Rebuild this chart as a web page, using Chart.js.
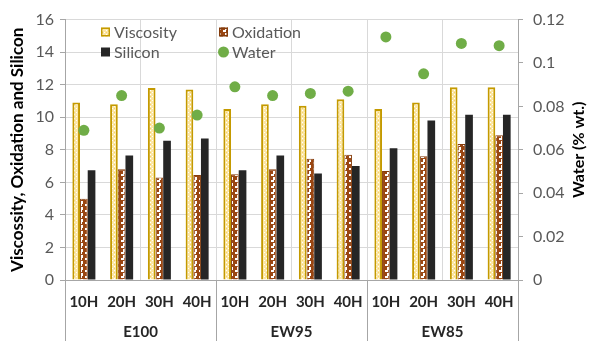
<!DOCTYPE html>
<html lang="en">
<head>
  <meta charset="UTF-8" />
  <title>Viscosity, Oxidation, Silicon and Water</title>
  <script src="https://cdn.jsdelivr.net/npm/chart.js"></script>
  <style>
    html, body { margin: 0; padding: 0; background: #fff; }
    #wrap { width: 590px; height: 341px; }
  </style>
</head>
<body>
  <div id="wrap"><canvas id="chart" width="590" height="341"></canvas></div>

  <script>
    const hours = ['10H', '20H', '30H', '40H', '10H', '20H', '30H', '40H', '10H', '20H', '30H', '40H'];
    const groups = ['E100', 'EW95', 'EW85'];
    const viscosity = [10.9, 10.8, 11.8, 11.7, 10.5, 10.8, 10.7, 11.1, 10.5, 10.9, 11.85, 11.85];
    const oxidation = [5.0, 6.8, 6.3, 6.45, 6.5, 6.8, 7.45, 7.7, 6.7, 7.6, 8.35, 8.9];
    const silicon = [6.75, 7.65, 8.55, 8.7, 6.75, 7.65, 6.55, 7.0, 8.1, 9.8, 10.15, 10.15];
    const water = [0.069, 0.085, 0.07, 0.076, 0.089, 0.085, 0.086, 0.087, 0.112, 0.095, 0.109, 0.108];
    const rightTicks = ['0', '0.02', '0.04', '0.06', '0.08', '0.1', '0.12'];

    const FONT = 'Lato, "Open Sans", sans-serif';
    const GRID = '#D9D9D9';
    const AXIS = '#A6A6A6';

    // small fill patterns like the Excel ones
    function makePattern(size, draw) {
      const c = document.createElement('canvas');
      c.width = size; c.height = size;
      draw(c.getContext('2d'));
      return c.getContext('2d').createPattern(c, 'repeat');
    }
    const viscPattern = makePattern(4, g => {
      g.fillStyle = '#FDE7A4'; g.fillRect(0, 0, 4, 4);
      g.fillStyle = '#FFFFFF'; g.fillRect(0, 0, 1, 1); g.fillRect(2, 2, 1, 1);
      g.fillStyle = '#F6D26E'; g.fillRect(2, 0, 1, 1);
    });
    const oxPattern = makePattern(6, g => {
      g.fillStyle = '#9A4612'; g.fillRect(0, 0, 6, 6);
      g.fillStyle = '#FFFFFF'; g.fillRect(1, 0, 3, 2); g.fillRect(3, 3, 2, 3);
    });

    const legendItems = [
      { text: 'Viscosity', x: 101, y: 32, kind: 'visc' },
      { text: 'Oxidation', x: 219, y: 32, kind: 'ox' },
      { text: 'Silicon', x: 101, y: 52, kind: 'si' },
      { text: 'Water', x: 219, y: 52, kind: 'water' }
    ];

    const extras = {
      id: 'extras',
      afterDraw(chart) {
        const ctx = chart.ctx;
        const x = chart.scales.x;
        const area = chart.chartArea;
        const bottom = chart.height;
        ctx.save();
        // group separators below the axis
        ctx.strokeStyle = AXIS;
        ctx.lineWidth = 1;
        const per = hours.length / groups.length;
        for (let g = 0; g <= groups.length; g++) {
          const i = g * per;
          let px;
          if (i === 0) px = area.left;
          else if (i === hours.length) px = area.right;
          else px = (x.getPixelForValue(i - 1) + x.getPixelForValue(i)) / 2;
          px = Math.round(px) + 0.5;
          ctx.beginPath();
          ctx.moveTo(px, area.bottom);
          ctx.lineTo(px, bottom);
          ctx.stroke();
        }
        // group labels
        ctx.fillStyle = '#262626';
        ctx.font = 'bold 15px ' + FONT;
        ctx.textAlign = 'center';
        ctx.textBaseline = 'middle';
        groups.forEach((name, g) => {
          const c = (x.getPixelForValue(g * per) + x.getPixelForValue(g * per + per - 1)) / 2;
          ctx.fillText(name, c, 332);
        });
        // right axis title
        ctx.save();
        ctx.translate(579, (area.top + area.bottom) / 2);
        ctx.rotate(-Math.PI / 2);
        ctx.font = 'bold 16px ' + FONT;
        ctx.fillStyle = '#000';
        ctx.fillText('Water (% wt.)', 0, 0);
        ctx.restore();
        // legend
        ctx.font = '16px ' + FONT;
        ctx.textAlign = 'left';
        legendItems.forEach(it => {
          if (it.kind === 'visc') {
            ctx.fillStyle = viscPattern; ctx.fillRect(it.x, it.y - 4.5, 9, 9);
            ctx.strokeStyle = '#C49A00'; ctx.lineWidth = 1.5; ctx.strokeRect(it.x + 0.75, it.y - 3.75, 7.5, 7.5);
          } else if (it.kind === 'ox') {
            ctx.fillStyle = oxPattern; ctx.fillRect(it.x, it.y - 4.5, 9, 9);
            ctx.strokeStyle = '#843C0C'; ctx.lineWidth = 1.5; ctx.strokeRect(it.x + 0.75, it.y - 3.75, 7.5, 7.5);
          } else if (it.kind === 'si') {
            ctx.fillStyle = '#262626'; ctx.fillRect(it.x, it.y - 4.5, 9, 9);
          } else {
            ctx.fillStyle = '#70AD47';
            ctx.beginPath(); ctx.arc(it.x + 4.5, it.y, 5.5, 0, Math.PI * 2); ctx.fill();
          }
          ctx.fillStyle = '#595959';
          ctx.fillText(it.text, it.x + 13, it.y + 1);
        });
        ctx.restore();
      }
    };

    new Chart(document.getElementById('chart'), {
      type: 'bar',
      data: {
        labels: hours,
        datasets: [
          { label: 'Viscosity', data: viscosity, backgroundColor: viscPattern, borderColor: '#C49A00', borderWidth: 2, order: 1 },
          { label: 'Oxidation', data: oxidation, backgroundColor: oxPattern, borderColor: '#843C0C', borderWidth: 1, order: 1 },
          { label: 'Silicon', data: silicon, backgroundColor: '#262626', borderWidth: 0, order: 1 },
          { label: 'Water', type: 'line', data: water, yAxisID: 'y1', showLine: false,
            pointRadius: 5.5, pointBackgroundColor: '#70AD47', pointBorderWidth: 0, borderColor: '#70AD47', order: -1 }
        ]
      },
      options: {
        responsive: false,
        animation: false,
        layout: { padding: { top: 18, left: 0, right: 0, bottom: 0 } },
        datasets: { bar: { categoryPercentage: 0.61, barPercentage: 1 } },
        plugins: { legend: { display: false }, tooltip: { enabled: false } },
        scales: {
          x: {
            offset: true,
            grid: {
              offset: true,
              drawTicks: false,
              color: c => (c.index > 0 && c.index % 2 === 0) ? GRID : 'rgba(0,0,0,0)'
            },
            border: { color: AXIS },
            ticks: { font: { family: FONT, size: 15, weight: 'bold' }, color: '#262626', padding: 13, maxRotation: 0, autoSkip: false },
            afterFit: s => { s.height = 61; }
          },
          y: {
            position: 'left',
            min: 0, max: 16,
            ticks: { stepSize: 2, font: { family: FONT, size: 16 }, color: '#595959', padding: 6 },
            grid: { color: GRID, tickLength: 5, tickColor: AXIS },
            border: { color: AXIS },
            title: { display: true, text: 'Viscossity, Oxidation and Silicon', font: { family: FONT, size: 17, weight: 'bold' }, color: '#000', padding: { top: 7, bottom: 0 } },
            afterFit: s => { s.width = 65; }
          },
          y1: {
            position: 'right',
            min: 0, max: 0.12,
            ticks: { stepSize: 0.02, font: { family: FONT, size: 16 }, color: '#595959', padding: 10,
              callback: (v, i) => rightTicks[i] },
            grid: { drawOnChartArea: false, tickLength: 5, tickColor: AXIS },
            border: { color: AXIS },
            afterFit: s => { s.width = 72; }
          }
        }
      },
      plugins: [extras]
    });
  </script>
</body>
</html>
